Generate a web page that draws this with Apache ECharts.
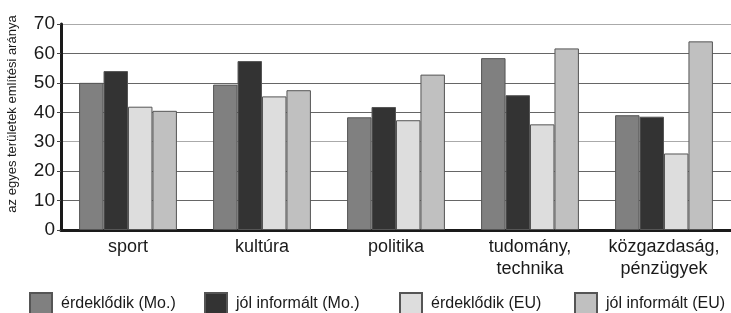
<!DOCTYPE html>
<html><head><meta charset="utf-8">
<script src="https://cdn.jsdelivr.net/npm/echarts@6/dist/echarts.min.js"></script>
<style>html,body{margin:0;padding:0;background:#fff}#c{width:731px;height:313px}</style>
</head><body><div id="c"></div>
<script>
const categories = ['sport', 'kultúra', 'politika', 'tudomány,\ntechnika', 'közgazdaság,\npénzügyek'];
const seriesNames = ['érdeklődik (Mo.)', 'jól informált (Mo.)', 'érdeklődik (EU)', 'jól informált (EU)'];
const erdMo = [50.0, 49.4, 38.3, 58.4, 39.0];
const jolMo = [54.0, 57.4, 41.8, 45.8, 38.5];
const erdEU = [41.9, 45.4, 37.3, 35.9, 26.0];
const jolEU = [40.5, 47.5, 52.8, 61.7, 64.1];
const yTicks = [0, 10, 20, 30, 40, 50, 60, 70];
const yTitle = 'az egyes területek említési aránya';

const colors = ['#808080', '#333333', '#dddddd', '#c0c0c0'];
const values = [erdMo, jolMo, erdEU, jolEU];
const font = '"Liberation Sans", Arial, sans-serif';
const legendLefts = [29, 204, 399, 574];

const chart = echarts.init(document.getElementById('c'), null, {renderer: 'canvas'});
chart.setOption({
  animation: false,
  backgroundColor: '#fff',
  grid: {left: 61, right: 0, top: 24, bottom: 83, containLabel: false},
  legend: seriesNames.map((n, i) => ({
    data: [n], left: legendLefts[i], top: 292, itemWidth: 22, itemHeight: 22,
    icon: 'rect', itemGap: 0, padding: 0,
    textStyle: {fontFamily: font, fontSize: 16, color: '#1a1a1a', padding: [0, 0, 0, 4]}
  })),
  xAxis: {
    type: 'category', data: categories,
    axisLine: {lineStyle: {color: '#1a1a1a', width: 3}},
    axisTick: {show: false},
    axisLabel: {interval: 0, fontFamily: font, fontSize: 18, color: '#1a1a1a', margin: 6, lineHeight: 22}
  },
  yAxis: {
    type: 'value', min: 0, max: 70, interval: 10,
    axisLine: {show: true, lineStyle: {color: '#1a1a1a', width: 3}},
    axisTick: {show: true, length: 4, lineStyle: {color: '#444'}},
    axisLabel: {fontFamily: font, fontSize: 19, color: '#1a1a1a', margin: 6,
      formatter: v => yTicks.includes(v) ? String(v) : ''},
    splitLine: {lineStyle: {color: ['#666', '#666', '#666', '#aaa', '#666', '#666', '#666', '#aaa'], width: 1}}
  },
  graphic: [{
    type: 'text', rotation: Math.PI / 2, x: 12, y: 114,
    style: {text: yTitle, fontFamily: font, fontSize: 13, fill: '#1a1a1a', align: 'center', verticalAlign: 'middle'}
  }],
  series: seriesNames.map((n, i) => ({
    name: n, type: 'bar', data: values[i],
    barGap: '0%', barCategoryGap: '27%',
    itemStyle: {color: colors[i], borderColor: '#555', borderWidth: 1}
  }))
});
</script></body></html>
